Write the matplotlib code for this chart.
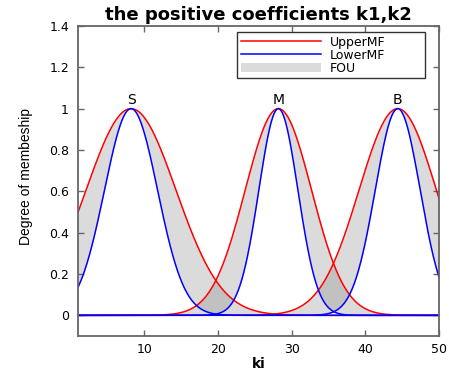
import numpy as np
import matplotlib
matplotlib.use("Agg")
import matplotlib.pyplot as plt
from matplotlib.lines import Line2D
from matplotlib.patches import Patch

# Interval type-2 Gaussian membership functions (uncertain standard deviation)
labels = ["S", "M", "B"]
centers = [8.2, 28.2, 44.4]
sigma_upper = [6.1, 4.5, 5.25]
sigma_lower = [3.6, 2.65, 3.05]

x_range = (1, 50)
xticks = [10, 20, 30, 40, 50]
yticks = [0, 0.2, 0.4, 0.6, 0.8, 1.0, 1.2, 1.4]
ytick_labels = ["0", "0.2", "0.4", "0.6", "0.8", "1", "1.2", "1.4"]

plt.rcParams["font.family"] = ["DejaVu Sans"]

fig = plt.figure(figsize=(4.49, 3.71), dpi=100)
ax = fig.add_axes([0.1737, 0.0943, 0.804, 0.8357])

ki = np.linspace(x_range[0], x_range[1], 600)


def gauss(x, c, s):
    return np.exp(-((x - c) ** 2) / (2.0 * s ** 2))


uppers = [gauss(ki, c, s) for c, s in zip(centers, sigma_upper)]
lowers = [gauss(ki, c, s) for c, s in zip(centers, sigma_lower)]

# footprint of uncertainty
for up, lo in zip(uppers, lowers):
    ax.fill_between(ki, lo, up, color="0.5", alpha=0.28, linewidth=0)
for up in uppers:
    ax.plot(ki, up, color="red", lw=1.1)
for lo in lowers:
    ax.plot(ki, lo, color="blue", lw=1.1)

for lab, c in zip(labels, centers):
    ax.text(c, 1.04, lab, ha="center", va="center", fontsize=10, color="black")

ax.set_xlim(*x_range)
ax.set_ylim(-0.1, 1.4)
ax.set_xticks(xticks)
ax.set_yticks(yticks)
ax.set_yticklabels(ytick_labels)

ax.tick_params(direction="in", top=True, right=True, length=4, width=1,
               color="0.4", labelsize=9, labelcolor="black")
ax.tick_params(axis="x", pad=5)
ax.tick_params(axis="y", pad=6.5)
for sp in ax.spines.values():
    sp.set_color("0.4")
    sp.set_linewidth(1.3)

ax.set_title("the positive coefficients k1,k2", fontweight="bold",
             fontsize=13, pad=4)
ax.set_xlabel("ki", fontweight="bold", fontsize=10, labelpad=1)
ax.set_ylabel("Degree of membeship", family=["Liberation Sans", "DejaVu Sans"],
              fontsize=10)
ax.yaxis.set_label_coords(-0.125, 0.513)

handles = [Line2D([], [], color="red", lw=1.1),
           Line2D([], [], color="blue", lw=1.1),
           Patch(facecolor="0.86", edgecolor="none")]
leg = ax.legend(handles, ["UpperMF", "LowerMF", "FOU"],
                loc="upper left", bbox_to_anchor=(0.440, 0.835, 0.521, 0.146),
                mode="expand", borderaxespad=0, fontsize=9,
                handlelength=6.4, handletextpad=0.75, labelspacing=0.0,
                borderpad=0.3, handleheight=0.75, fancybox=False, framealpha=1)
leg.get_frame().set_edgecolor("0.2")
leg.get_frame().set_linewidth(1.0)

fig.savefig("out.png", dpi=100)
